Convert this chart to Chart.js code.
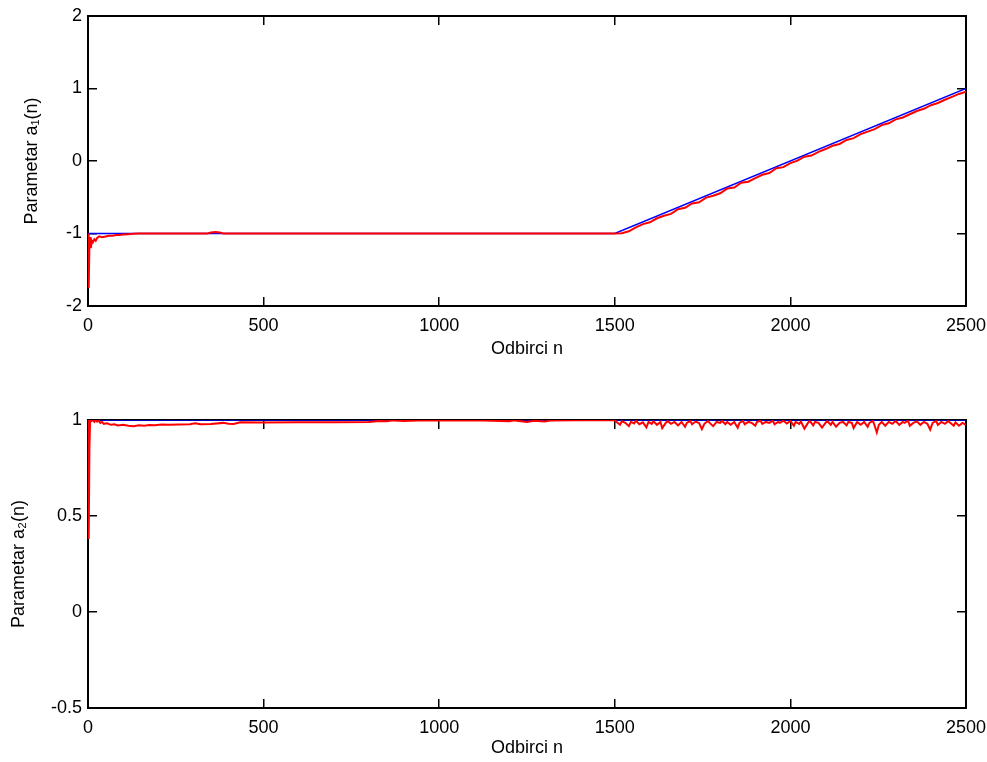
<!DOCTYPE html>
<html>
<head>
<meta charset="utf-8">
<script src="https://cdn.jsdelivr.net/npm/chart.js@4.4.1/dist/chart.umd.min.js"></script>
<style>
  html, body { margin: 0; padding: 0; background: #fff; }
  #wrap { position: relative; width: 987px; height: 762px; }
  canvas { position: absolute; left: 0; }
</style>
</head>
<body>
<div id="wrap">
  <canvas id="plotA1" width="987" height="381" style="top:0"></canvas>
  <canvas id="plotA2" width="987" height="381" style="top:381px"></canvas>
</div>
<script>
// tick values
const xTicks = [0, 500, 1000, 1500, 2000, 2500];
const a1Ticks = [-2, -1, 0, 1, 2];
const a2Ticks = [-0.5, 0, 0.5, 1];

// true parameter a1(n)
const a1TrueN = [0, 1500, 2500];
const a1True = [-1, -1, 1];

// estimated a1(n)
const a1EstN = [0, 2, 4, 6, 8, 11, 14, 18, 22, 26, 32, 40, 50, 60, 70, 80, 90, 100, 115, 130, 145,
  340, 350, 362, 375, 385, 1500,
  1520, 1540, 1560, 1580, 1600, 1620, 1640, 1660, 1680, 1700, 1720, 1740, 1760, 1780, 1800,
  1820, 1840, 1860, 1880, 1900, 1920, 1940, 1960, 1980, 2000, 2020, 2040, 2060, 2080, 2100,
  2120, 2140, 2160, 2180, 2200, 2220, 2240, 2260, 2280, 2300, 2320, 2340, 2360, 2380, 2400,
  2420, 2440, 2460, 2480, 2500];
const a1Est = [-1.0, -1.75, -1.15, -1.05, -1.2, -1.1, -1.12, -1.08, -1.1, -1.06, -1.04, -1.05, -1.04, -1.03, -1.03, -1.02, -1.02, -1.015, -1.01, -1.005, -1.0,
  -1.0, -0.985, -0.98, -0.985, -1.0, -1.0,
  -0.995, -0.97, -0.915, -0.87, -0.845, -0.79, -0.755, -0.73, -0.665, -0.645, -0.585, -0.57, -0.505, -0.48, -0.445,
  -0.38, -0.365, -0.30, -0.285, -0.235, -0.19, -0.165, -0.10, -0.085, -0.03, 0.005, 0.06, 0.075, 0.125, 0.165,
  0.21, 0.235, 0.29, 0.315, 0.37, 0.405, 0.44, 0.495, 0.52, 0.575, 0.60, 0.645, 0.69, 0.72, 0.77,
  0.80, 0.845, 0.885, 0.925, 0.955];

// true parameter a2(n)
const a2TrueN = [0, 2500];
const a2True = [1, 1];

// estimated a2(n)
const a2EstN = [0, 2, 4, 6, 10, 14, 18, 22, 26, 30, 35, 40, 45, 55, 65, 75, 85, 100, 115, 130, 145, 160, 175, 190,
  210, 230, 260, 290, 305, 320, 350, 385, 400, 415, 433, 500, 600, 700, 800, 830, 850, 870, 900, 940, 1000,
  1100, 1200, 1215, 1250, 1270, 1300, 1320, 1400,
  1500, 1505, 1515, 1520, 1530, 1540, 1546, 1555, 1560, 1570, 1580, 1590, 1596, 1605, 1610, 1620, 1630, 1635,
  1645, 1650, 1660, 1670, 1680, 1690, 1700, 1705, 1715, 1720, 1730, 1740, 1748, 1755, 1765, 1770, 1780, 1790,
  1800, 1805, 1815, 1820, 1830, 1840, 1850, 1855, 1865, 1870, 1880, 1890, 1900, 1905, 1915, 1920, 1930, 1940,
  1950, 1955, 1965, 1970, 1980, 1990, 2000, 2010, 2015, 2025, 2030, 2040, 2050, 2055, 2065, 2070, 2080, 2090,
  2100, 2105, 2115, 2120, 2130, 2140, 2150, 2160, 2165, 2175, 2180, 2190, 2200, 2210, 2220, 2225, 2235, 2240,
  2246, 2252, 2260, 2270, 2280, 2290, 2300, 2310, 2320, 2325, 2335, 2340, 2350, 2360, 2370, 2380, 2390, 2398,
  2405, 2415, 2420, 2430, 2440, 2450, 2455, 2465, 2470, 2480, 2490, 2500];
const a2Est = [1.0, 0.38, 0.85, 1.0, 0.995, 1.0, 0.99, 1.0, 0.992, 0.998, 0.985, 0.99, 0.98, 0.983, 0.975, 0.978, 0.972, 0.975, 0.97, 0.968, 0.972, 0.97, 0.974, 0.973,
  0.976, 0.975, 0.977, 0.978, 0.983, 0.978, 0.979, 0.985, 0.98, 0.979, 0.988, 0.987, 0.988, 0.988, 0.989, 0.995, 0.993, 0.998, 0.995, 0.998, 0.998,
  0.999, 0.994, 0.998, 0.99, 0.996, 0.992, 0.998, 0.999,
  1.0, 0.99, 0.975, 0.993, 0.985, 0.968, 0.99, 0.982, 0.996, 0.978, 0.988, 0.962, 0.99, 0.98, 0.993, 0.975, 0.99, 0.958,
  0.985, 0.995, 0.98, 0.99, 0.972, 0.99, 0.965, 0.985, 0.995, 0.978, 0.992, 0.984, 0.952, 0.98, 0.995, 0.985, 0.968, 0.99,
  0.985, 0.996, 0.978, 0.99, 0.975, 0.99, 0.96, 0.985, 0.995, 0.978, 0.99, 0.985, 0.97, 0.99, 0.996, 0.98, 0.99, 0.985,
  0.996, 0.978, 0.99, 0.985, 0.996, 0.982, 0.995, 0.97, 0.99, 0.98, 0.992, 0.955, 0.985, 0.995, 0.972, 0.99, 0.985, 0.96,
  0.985, 0.995, 0.975, 0.99, 0.965, 0.985, 0.99, 0.972, 0.99, 0.985, 0.958, 0.99, 0.975, 0.99, 0.965, 0.985, 0.995, 0.97,
  0.935, 0.975, 0.99, 0.97, 0.99, 0.98, 0.995, 0.975, 0.99, 0.985, 0.996, 0.97, 0.985, 0.993, 0.975, 0.99, 0.98, 0.95,
  0.985, 0.995, 0.975, 0.99, 0.98, 0.995, 0.985, 0.97, 0.988, 0.97, 0.985, 0.975];

const FONT = "'Liberation Sans', Arial, Helvetica, sans-serif";
const TICK_IN = -9;

function points(xs, ys) {
  return xs.map((x, i) => ({ x: x, y: ys[i] }));
}

function setTicks(values) {
  return function (scale) {
    scale.ticks = values.map(v => ({ value: v }));
  };
}

// fixed axis size, no extra label padding pushed into the layout
function fixSize(size) {
  return function (s) {
    if (s.isHorizontal()) s.height = size; else s.width = size;
    s.paddingLeft = 0;
    s.paddingRight = 0;
    s.paddingTop = 0;
    s.paddingBottom = 0;
  };
}

function gridIn() {
  return { drawOnChartArea: false, drawTicks: true, tickLength: TICK_IN, color: '#000', lineWidth: 1.5 };
}

function borderLine() {
  return { display: true, color: '#000', width: 2 };
}

// axis with ticks only, for the top and right side of the box
function boxAxis(position, min, max, values) {
  return {
    type: 'linear',
    position: position,
    min: min,
    max: max,
    afterBuildTicks: setTicks(values),
    afterFit: fixSize(0),
    ticks: { display: false },
    grid: gridIn(),
    border: borderLine()
  };
}

function drawPlot(canvasId, cfg) {
  const ctx = document.getElementById(canvasId);
  return new Chart(ctx, {
    type: 'line',
    data: {
      datasets: [
        {
          data: points(cfg.estN, cfg.est),
          borderColor: '#ff0000',
          borderWidth: 2,
          pointRadius: 0,
          order: 0
        },
        {
          data: points(cfg.trueN, cfg.trueVals),
          borderColor: '#0000ff',
          borderWidth: 1.5,
          pointRadius: 0,
          order: 1
        }
      ]
    },
    options: {
      responsive: false,
      animation: false,
      events: [],
      layout: { padding: { left: 0, right: 21, top: cfg.padTop, bottom: 0 } },
      plugins: { legend: { display: false }, tooltip: { enabled: false } },
      elements: { line: { tension: 0 } },
      scales: {
        x: {
          type: 'linear',
          position: 'bottom',
          min: 0,
          max: 2500,
          afterBuildTicks: setTicks(xTicks),
          afterFit: fixSize(cfg.xHeight),
          ticks: {
            color: '#000', font: { family: FONT, size: 18 }, padding: 18,
            maxRotation: 0, autoSkip: false, callback: v => String(v)
          },
          grid: gridIn(),
          border: borderLine(),
          title: {
            display: true, text: 'Odbirci n', color: '#000',
            font: { family: FONT, size: 18 }, padding: { top: 0, bottom: cfg.xTitlePad }
          }
        },
        xTop: boxAxis('top', 0, 2500, xTicks),
        y: {
          type: 'linear',
          position: 'left',
          min: cfg.yMin,
          max: cfg.yMax,
          afterBuildTicks: setTicks(cfg.yTicks),
          afterFit: fixSize(88),
          ticks: {
            color: '#000', font: { family: FONT, size: 18 }, padding: 15,
            autoSkip: false, callback: v => String(v)
          },
          grid: gridIn(),
          border: borderLine(),
          title: {
            display: true, text: cfg.yLabel, color: '#000',
            font: { family: FONT, size: 18 }, padding: { top: cfg.yTitlePad, bottom: 0 }
          }
        },
        yRight: boxAxis('right', cfg.yMin, cfg.yMax, cfg.yTicks)
      }
    }
  });
}

drawPlot('plotA1', {
  estN: a1EstN, est: a1Est, trueN: a1TrueN, trueVals: a1True,
  yMin: -2, yMax: 2, yTicks: a1Ticks, yLabel: 'Parametar a\u2081(n)',
  padTop: 16, xHeight: 75, xTitlePad: 21, yTitlePad: 21
});

drawPlot('plotA2', {
  estN: a2EstN, est: a2Est, trueN: a2TrueN, trueVals: a2True,
  yMin: -0.5, yMax: 1, yTicks: a2Ticks, yLabel: 'Parametar a\u2082(n)',
  padTop: 39, xHeight: 54, xTitlePad: 3, yTitlePad: 8
});
</script>
</body>
</html>
